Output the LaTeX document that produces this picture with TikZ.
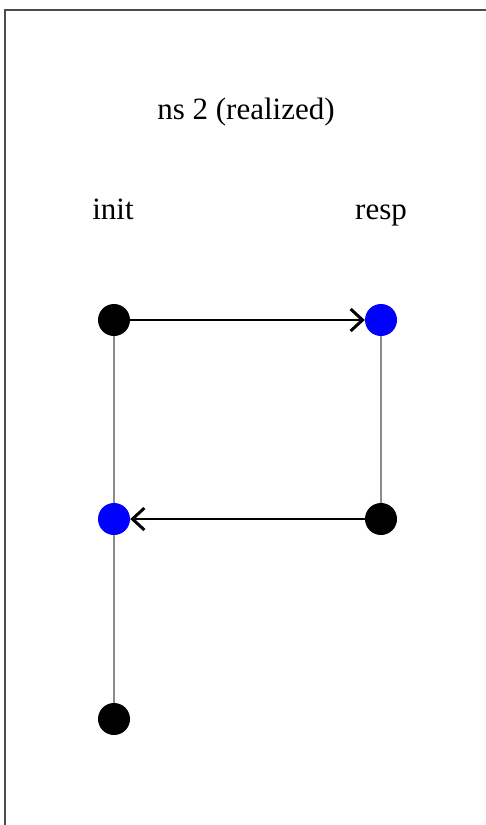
\documentclass[tikz,border=0pt]{standalone}
\usepackage{fontspec}
\setmainfont{Liberation Serif}
\usetikzlibrary{arrows.meta}
\begin{document}
\begin{tikzpicture}[x=1pt,y=-1pt,
  dotblack/.style={circle,fill=black,minimum size=32pt,inner sep=0pt},
  dotblue/.style={circle,fill=blue,minimum size=32pt,inner sep=0pt},
  lifeline/.style={draw=black!45,line width=2pt},
  msg/.style={draw=black,line width=2.6pt,-{Straight Barb[length=12pt,width=22pt,line width=3pt]}},
  lbl/.style={anchor=base,inner sep=0pt,font=\fontsize{31}{36}\selectfont},
  frameline/.style={draw=black!70,line width=2.5pt}]
\useasboundingbox (0,0) rectangle (485,825);
\draw[frameline] (5,827) -- (5,10) -- (487,10);
\node[lbl] (title) at (246,119) {ns 2 (realized)};
\node[lbl] (init) at (113,219) {init};
\node[lbl] (resp) at (381,219) {resp};
\node[dotblack] (i1) at (114,320) {};
\node[dotblue] (i2) at (114,519) {};
\node[dotblack] (i3) at (114,719) {};
\node[dotblue] (r1) at (381,320) {};
\node[dotblack] (r2) at (381,519) {};
\draw[lifeline] (i1) -- (i2);
\draw[lifeline] (i2) -- (i3);
\draw[lifeline] (r1) -- (r2);
\draw[msg] (i1) -- (r1);
\draw[msg] (r2) -- (i2);
\end{tikzpicture}
\end{document}
